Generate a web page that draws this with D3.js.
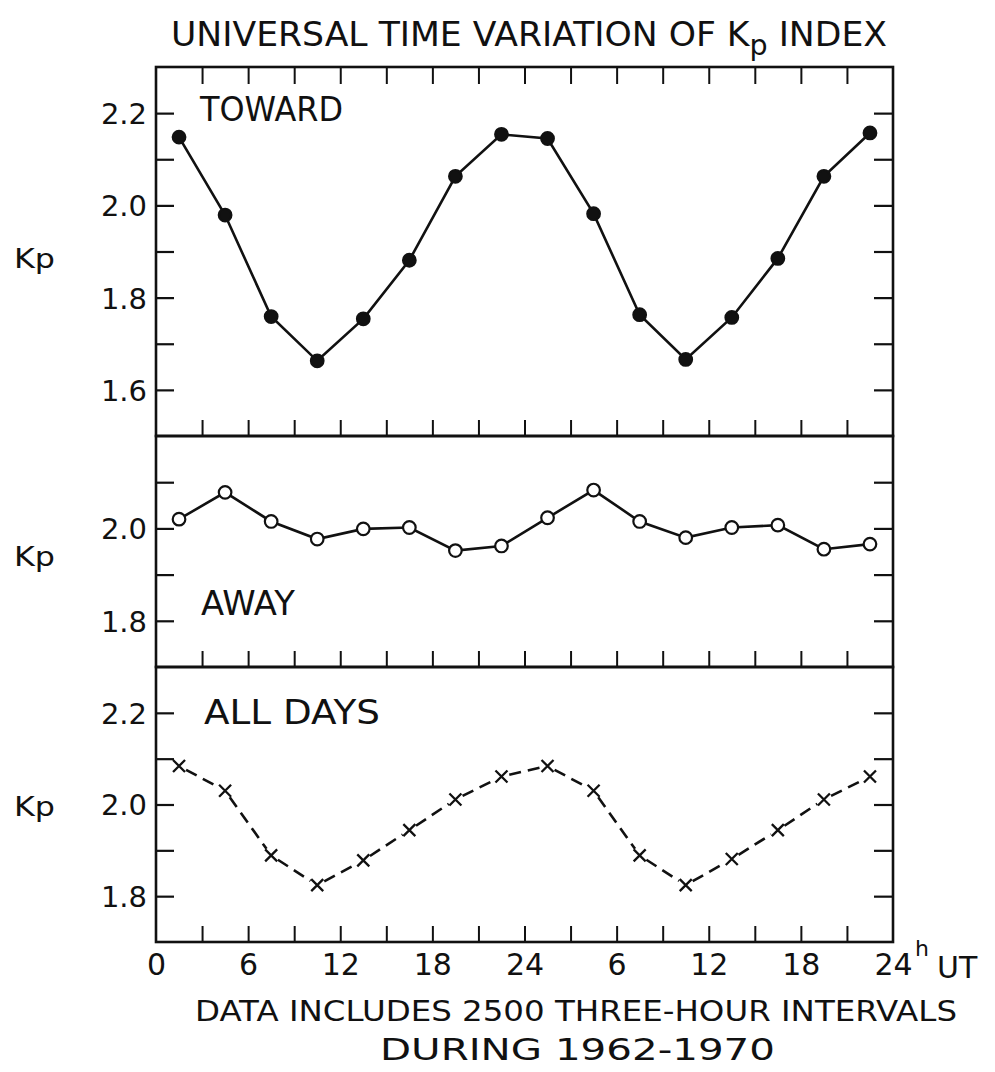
<!DOCTYPE html>
<html><head><meta charset="utf-8">
<script src="https://cdn.jsdelivr.net/npm/d3@7/dist/d3.min.js"></script>
<style>
body{margin:0;background:#fff}
text{font-family:"DejaVu Sans","Liberation Sans",sans-serif;fill:#111}
</style>
</head><body>
<svg id="c" width="995" height="1072"></svg>
<script>
// ---- data ----
const hours = [1.5,4.5,7.5,10.5,13.5,16.5,19.5,22.5,25.5,28.5,31.5,34.5,37.5,40.5,43.5,46.5];
const toward = [2.148,1.979,1.759,1.663,1.754,1.881,2.063,2.154,2.145,1.982,1.763,1.666,1.757,1.885,2.063,2.157];
const away = [2.020,2.078,2.015,1.977,1.999,2.002,1.952,1.962,2.023,2.083,2.015,1.980,2.002,2.007,1.955,1.966];
const allDays = [2.084,2.030,1.889,1.824,1.878,1.944,2.011,2.061,2.084,2.030,1.889,1.824,1.881,1.944,2.011,2.061];
const xTickHours = [3,6,9,12,15,18,21,24,27,30,33,36,39,42,45];
const xLabelHours = [0,6,12,18,24,30,36,42,48];
const xLabels = ["0","6","12","18","24","6","12","18","24"];
const topTicks = [1.6,1.7,1.8,1.9,2.0,2.1,2.2];
const topLabels = [1.6,1.8,2.0,2.2];
const midTicks = [1.8,1.9,2.0,2.1];
const midLabels = [1.8,2.0];
const botTicks = [1.8,1.9,2.0,2.1,2.2];
const botLabels = [1.8,2.0,2.2];
const titleText = ["UNIVERSAL TIME VARIATION OF K","p"," INDEX"];
const footLines = ["DATA INCLUDES 2500 THREE-HOUR INTERVALS","DURING 1962-1970"];

// ---- layout ----
const svg = d3.select("#c");
const L = 156, R = 893;
const x = d3.scaleLinear().domain([0,48]).range([L,R]);

const panels = [
  {data:toward, domain:[1.5,2.3], top:67, bottom:436, ticks:topTicks, labels:topLabels,
   name:"TOWARD", nx:200, ny:121, nw:143, mark:"filled", topTicks:true, kpY:268},
  {data:away, domain:[1.7,2.2], top:436, bottom:667, ticks:midTicks, labels:midLabels,
   name:"AWAY", nx:201, ny:615, nw:94, mark:"open", topTicks:false, kpY:566},
  {data:allDays, domain:[1.7,2.3], top:667, bottom:942, ticks:botTicks, labels:botLabels,
   name:"ALL DAYS", nx:204, ny:724, nw:176, mark:"cross", topTicks:false, kpY:816}
];

const fmt = d3.format(".1f");

panels.forEach(p => {
  const y = d3.scaleLinear().domain(p.domain).range([p.bottom,p.top]);
  const g = svg.append("g");

  const la = d3.axisLeft(y).tickValues(p.ticks).tickSize(-18).tickPadding(9)
     .tickFormat(d => p.labels.some(v => Math.abs(v-d)<1e-6) ? fmt(d) : "");
  const lg = g.append("g").attr("transform",`translate(${L},0)`).call(la);
  lg.select(".domain").remove();
  lg.selectAll("line").attr("stroke","#111").attr("stroke-width",2.2);
  lg.selectAll("text").attr("font-size",29).attr("fill","#111").attr("dy","0.36em");

  const ra = d3.axisRight(y).tickValues(p.ticks).tickSize(-19).tickFormat("");
  const rg = g.append("g").attr("transform",`translate(${R},0)`).call(ra);
  rg.select(".domain").remove();
  rg.selectAll("line").attr("stroke","#111").attr("stroke-width",2.2);

  const ba = d3.axisBottom(x).tickValues(xTickHours).tickSize(-16).tickFormat("");
  const bg = g.append("g").attr("transform",`translate(0,${p.bottom})`).call(ba);
  bg.select(".domain").remove();
  bg.selectAll("line").attr("stroke","#111").attr("stroke-width",2);

  if (p.topTicks) {
    const ta = d3.axisTop(x).tickValues(xTickHours).tickSize(-17).tickFormat("");
    const tg = g.append("g").attr("transform",`translate(0,${p.top})`).call(ta);
    tg.select(".domain").remove();
    tg.selectAll("line").attr("stroke","#111").attr("stroke-width",2);
  }

  g.append("rect").attr("x",L).attr("y",p.top).attr("width",R-L).attr("height",p.bottom-p.top)
   .attr("fill","none").attr("stroke","#111").attr("stroke-width",2.6);

  g.append("text").attr("x",14).attr("y",p.kpY).attr("font-size",26)
   .attr("textLength",41).attr("lengthAdjust","spacingAndGlyphs").text("Kp");

  g.append("text").attr("x",p.nx).attr("y",p.ny).attr("font-size",34)
   .attr("textLength",p.nw).attr("lengthAdjust","spacingAndGlyphs").text(p.name);

  const pts = p.data.map((v,i)=>[x(hours[i]), y(v)]);

  if (p.mark === "cross") {
    const gap = 8;
    for (let i=0;i<pts.length-1;i++){
      const [x1,y1]=pts[i],[x2,y2]=pts[i+1];
      const dx=x2-x1, dy=y2-y1, len=Math.hypot(dx,dy);
      const ux=dx/len, uy=dy/len;
      g.append("line").attr("x1",x1+ux*gap).attr("y1",y1+uy*gap)
       .attr("x2",x2-ux*gap).attr("y2",y2-uy*gap)
       .attr("stroke","#111").attr("stroke-width",2.6)
       .attr("stroke-dasharray","12,7");
    }
    const s = 6;
    g.selectAll(".cx").data(pts).enter().append("path")
     .attr("d",d=>`M${d[0]-s},${d[1]-s}L${d[0]+s},${d[1]+s}M${d[0]-s},${d[1]+s}L${d[0]+s},${d[1]-s}`)
     .attr("stroke","#111").attr("stroke-width",2.3).attr("fill","none");
  } else {
    g.append("path").attr("d",d3.line()(pts)).attr("fill","none")
     .attr("stroke","#111").attr("stroke-width",2.6);
    g.selectAll(".pt").data(pts).enter().append("circle")
     .attr("cx",d=>d[0]).attr("cy",d=>d[1]).attr("r",6.3)
     .attr("fill",p.mark==="filled"?"#111":"#fff")
     .attr("stroke","#111").attr("stroke-width",2.2);
  }
});

const xa = d3.axisBottom(x).tickValues(xLabelHours).tickSize(0).tickPadding(12)
  .tickFormat((d,i)=>xLabels[i]);
const xg = svg.append("g").attr("transform",`translate(0,942)`).call(xa);
xg.select(".domain").remove();
xg.selectAll("text").attr("font-size",30).attr("fill","#111");

svg.append("text").attr("x",915).attr("y",956).attr("font-size",22).text("h");
svg.append("text").attr("x",937).attr("y",978).attr("font-size",30).text("UT");

const t = svg.append("text").attr("x",171).attr("y",46).attr("font-size",34)
  .attr("textLength",716).attr("lengthAdjust","spacingAndGlyphs");
t.append("tspan").text(titleText[0]);
t.append("tspan").attr("dy",9).attr("font-size",28).text(titleText[1]);
t.append("tspan").attr("dy",-9).text(titleText[2]);

svg.append("text").attr("x",195).attr("y",1021).attr("font-size",29)
  .attr("textLength",762).attr("lengthAdjust","spacingAndGlyphs").text(footLines[0]);
svg.append("text").attr("x",380).attr("y",1060).attr("font-size",30)
  .attr("textLength",395).attr("lengthAdjust","spacingAndGlyphs").text(footLines[1]);
</script>
</body></html>
